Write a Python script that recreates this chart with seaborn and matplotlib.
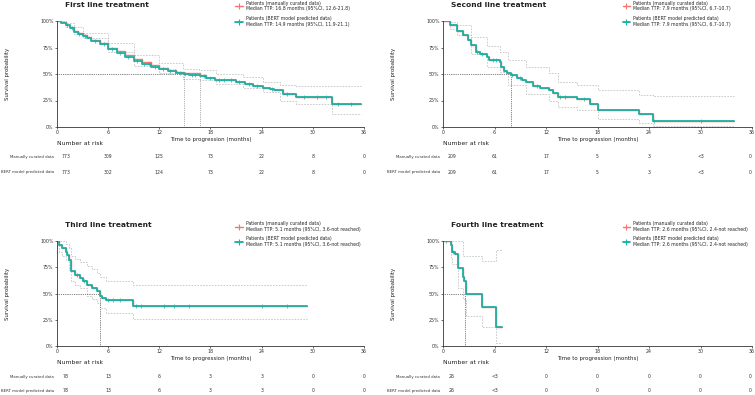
import numpy as np
import pandas as pd
import matplotlib.pyplot as plt
import seaborn as sns
from matplotlib.lines import Line2D

sns.set_theme(style="ticks")
plt.rcParams['font.family'] = ['DejaVu Sans']

RED = '#F8766D'
TEAL = '#1FB0A4'
CI_GRAY = '#C4C4C4'

titles = ['First line treatment', 'Second line treatment',
          'Third line treatment', 'Fourth line treatment']
risk_times = [0, 6, 12, 18, 24, 30, 36]
row_labels = ['Manually curated data', 'BERT model predicted data']

# ---- first line ----
p1_bert_t = [0, 0.5, 1.0, 1.5, 2.0, 2.5, 3.0, 3.5, 4.0, 5.0, 6.0, 7.0, 8.0, 9.0, 10.0, 11.0, 12.0,
             13.0, 14.0, 14.9, 15.5, 16.8, 17.5, 18.5, 20.0, 21.0, 22.0, 23.0, 24.2, 25.0, 25.5,
             26.5, 28.0, 32.2, 35.7]
p1_bert_s = [1.0, 0.985, 0.96, 0.93, 0.90, 0.875, 0.855, 0.835, 0.815, 0.78, 0.735, 0.70, 0.665,
             0.625, 0.595, 0.57, 0.545, 0.525, 0.51, 0.497, 0.494, 0.48, 0.465, 0.445, 0.44, 0.42,
             0.405, 0.39, 0.37, 0.36, 0.345, 0.31, 0.28, 0.22, 0.22]
p1_man_s = [1.0, 0.99, 0.965, 0.94, 0.91, 0.885, 0.865, 0.845, 0.825, 0.79, 0.75, 0.715, 0.68,
            0.645, 0.61, 0.585, 0.56, 0.535, 0.52, 0.51, 0.505, 0.49, 0.465, 0.445, 0.44, 0.42,
            0.405, 0.39, 0.37, 0.36, 0.345, 0.31, 0.28, 0.22, 0.22]
p1_ci_t = [0, 1.0, 2.0, 3.1, 6.0, 9.0, 12.0, 14.8, 16.7, 18.7, 21.8, 24.2, 26.1, 28.0, 32.2, 35.7]
p1_ci_hi = [1.0, 0.98, 0.94, 0.89, 0.79, 0.68, 0.60, 0.55, 0.536, 0.50, 0.467, 0.426, 0.394, 0.388,
            0.388, 0.388]
p1_ci_lo = [1.0, 0.94, 0.88, 0.836, 0.71, 0.58, 0.505, 0.457, 0.44, 0.41, 0.37, 0.33, 0.25, 0.215,
            0.12, 0.12]
p1_censor = [1.2, 1.8, 2.6, 3.3, 4.4, 5.5, 6.5, 7.4, 8.3, 9.4, 10.2, 10.8, 11.5, 12.4, 13.2, 13.8,
             14.4, 15.0, 15.8, 16.2, 17.2, 18.0, 19.0, 19.6, 20.4, 21.4, 22.5, 23.5, 25.2, 27.0,
             29.0, 30.5, 31.5, 33.0, 34.5]
p1_medians = [16.8, 14.9]

# ---- second line ----
p2_t = [0, 0.8, 1.6, 2.3, 2.9, 3.3, 3.9, 4.3, 5.1, 5.4, 6.6, 6.8, 7.1, 7.5, 7.9, 8.6, 9.2, 9.7,
        10.5, 11.3, 12.3, 12.8, 13.4, 15.6, 17.1, 18.1, 22.8, 24.5, 33.9]
p2_s = [1.0, 0.96, 0.91, 0.87, 0.82, 0.77, 0.71, 0.69, 0.66, 0.63, 0.615, 0.57, 0.53, 0.51, 0.49,
        0.465, 0.44, 0.42, 0.39, 0.37, 0.35, 0.32, 0.28, 0.26, 0.22, 0.16, 0.12, 0.06, 0.06]
p2_ci_t = [0, 0.8, 1.6, 3.3, 5.1, 6.6, 7.6, 9.7, 12.3, 13.4, 15.6, 18.1, 22.8, 24.5, 33.9]
p2_ci_hi = [1.0, 0.99, 0.96, 0.85, 0.76, 0.71, 0.63, 0.57, 0.505, 0.426, 0.394, 0.347, 0.30, 0.297,
            0.297]
p2_ci_lo = [1.0, 0.92, 0.87, 0.69, 0.57, 0.52, 0.394, 0.315, 0.25, 0.19, 0.164, 0.08, 0.04, 0.006,
            0.006]
p2_censor = [4.0, 4.6, 5.8, 6.2, 8.0, 9.0, 11.0, 13.6, 14.2, 16.4, 24.6, 30.0]
p2_medians = [7.9, 7.9]

# ---- third line ----
p3_t = [0, 0.2, 0.6, 1.0, 1.2, 1.4, 1.6, 1.7, 2.1, 2.7, 3.0, 3.5, 4.1, 4.7, 5.1, 5.3, 5.7, 8.9, 29.3]
p3_s = [1.0, 0.96, 0.93, 0.90, 0.87, 0.82, 0.76, 0.71, 0.68, 0.65, 0.62, 0.585, 0.55, 0.52, 0.475,
        0.46, 0.44, 0.38, 0.38]
p3_ci_t = [0, 0.2, 0.6, 1.0, 1.4, 1.7, 2.1, 2.7, 3.5, 4.1, 4.7, 5.1, 5.7, 8.9, 29.3]
p3_ci_hi = [1.0, 1.0, 1.0, 0.97, 0.93, 0.86, 0.83, 0.80, 0.76, 0.73, 0.70, 0.66, 0.62, 0.585, 0.585]
p3_ci_lo = [1.0, 0.90, 0.86, 0.82, 0.72, 0.62, 0.58, 0.55, 0.48, 0.45, 0.41, 0.36, 0.31, 0.255,
            0.255]
p3_censor = [2.3, 3.2, 6.0, 6.6, 7.4, 9.3, 9.8, 12.5, 13.7, 15.5, 24.0, 27.0]
p3_medians = [5.1, 5.1]

# ---- fourth line ----
p4_t = [0, 0.9, 1.1, 1.4, 1.8, 2.3, 2.45, 2.65, 4.6, 6.15, 6.9]
p4_s = [1.0, 0.96, 0.90, 0.88, 0.74, 0.66, 0.62, 0.50, 0.37, 0.185, 0.185]
p4_ci_t = [0, 0.9, 1.1, 1.8, 2.3, 2.65, 4.6, 6.15, 6.9]
p4_ci_hi = [1.0, 1.0, 1.0, 1.0, 0.86, 0.86, 0.81, 0.91, 0.91]
p4_ci_lo = [1.0, 0.84, 0.78, 0.55, 0.45, 0.29, 0.18, 0.03, 0.03]
p4_censor = [0.3, 1.2]
p4_medians = [2.6, 2.6]

legend_texts = [
    ['Patients (manually curated data)\nMedian TTP: 16.8 months (95%CI, 12.6-21.8)',
     'Patients (BERT model predicted data)\nMedian TTP: 14.9 months (95%CI, 11.9-21.1)'],
    ['Patients (manually curated data)\nMedian TTP: 7.9 months (95%CI, 6.7-10.7)',
     'Patients (BERT model predicted data)\nMedian TTP: 7.9 months (95%CI, 6.7-10.7)'],
    ['Patients (manually curated data)\nMedian TTP: 5.1 months (95%CI, 3.6-not reached)',
     'Patients (BERT model predicted data)\nMedian TTP: 5.1 months (95%CI, 3.6-not reached)'],
    ['Patients (manually curated data)\nMedian TTP: 2.6 months (95%CI, 2.4-not reached)',
     'Patients (BERT model predicted data)\nMedian TTP: 2.6 months (95%CI, 2.4-not reached)'],
]

risk_manual = [
    ['773', '309', '125', '73', '22', '8', '0'],
    ['209', '61', '17', '5', '3', '<3', '0'],
    ['78', '13', '6', '3', '3', '0', '0'],
    ['26', '<3', '0', '0', '0', '0', '0'],
]
risk_bert = [
    ['773', '302', '124', '73', '22', '8', '0'],
    ['209', '61', '17', '5', '3', '<3', '0'],
    ['78', '13', '6', '3', '3', '0', '0'],
    ['26', '<3', '0', '0', '0', '0', '0'],
]

panels = [
    dict(man=(p1_bert_t, p1_man_s), bert=(p1_bert_t, p1_bert_s),
         ci=(p1_ci_t, p1_ci_hi, p1_ci_lo), cens=p1_censor, med=p1_medians),
    dict(man=(p2_t, p2_s), bert=(p2_t, p2_s),
         ci=(p2_ci_t, p2_ci_hi, p2_ci_lo), cens=p2_censor, med=p2_medians),
    dict(man=(p3_t, p3_s), bert=(p3_t, p3_s),
         ci=(p3_ci_t, p3_ci_hi, p3_ci_lo), cens=p3_censor, med=p3_medians),
    dict(man=(p4_t, p4_s), bert=(p4_t, p4_s),
         ci=(p4_ci_t, p4_ci_hi, p4_ci_lo), cens=p4_censor, med=p4_medians),
]

W, H = 755, 395
fig = plt.figure(figsize=(W / 100, H / 100), dpi=100)

# pixel boxes: (left, right, top, bottom) of the plot area
boxes = [(57, 364, 21, 127), (443, 752, 21, 127), (57, 364, 241, 346), (443, 752, 241, 346)]
# y pixel of: "Number at risk", row1, row2
risk_rows = [(144, 157, 172), (144, 157, 172), (363, 377, 391), (363, 377, 391)]


def step_value(t, s, x):
    idx = np.searchsorted(np.asarray(t), x, side='right') - 1
    return np.asarray(s)[idx]


for i, p in enumerate(panels):
    l, r, top, bot = boxes[i]
    ax = fig.add_axes([l / W, 1 - bot / H, (r - l) / W, (bot - top) / H])

    ct, hi, lo = p['ci']
    for arr in (hi, lo):
        sns.lineplot(x=ct, y=arr, ax=ax, drawstyle='steps-post', color=CI_GRAY,
                     linewidth=0.6, linestyle=(0, (2, 1.5)), estimator=None)

    for m in p['med']:
        ax.plot([0, m], [0.5, 0.5], color='#666666', linewidth=0.5, linestyle=':')
        ax.plot([m, m], [0, 0.5], color='#666666', linewidth=0.5, linestyle=':')

    mt, ms = p['man']
    bt, bs = p['bert']
    sns.lineplot(x=mt, y=ms, ax=ax, drawstyle='steps-post', color=RED, linewidth=1.0,
                 estimator=None)
    sns.lineplot(x=bt, y=bs, ax=ax, drawstyle='steps-post', color=TEAL, linewidth=1.3,
                 estimator=None)
    cens_y = [step_value(bt, bs, c) for c in p['cens']]
    ax.plot(p['cens'], cens_y, linestyle='none', marker='+', markersize=2.5,
            markeredgewidth=0.5, color=TEAL)

    ax.set_xlim(0, 36)
    ax.set_ylim(0, 1.0)
    ax.set_xticks(risk_times)
    ax.set_yticks([0, 0.25, 0.5, 0.75, 1.0])
    ax.set_yticklabels(['0%', '25%', '50%', '75%', '100%'])
    ax.tick_params(labelsize=3.4, length=1.5, width=0.5, pad=1, colors='#333333')
    ax.margins(0)
    for sp in ('top', 'right'):
        ax.spines[sp].set_visible(False)
    for sp in ('left', 'bottom'):
        ax.spines[sp].set_linewidth(0.6)
        ax.spines[sp].set_color('#333333')
    ax.set_xlabel('Time to progression (months)', fontsize=4.0, labelpad=1, color='#222222')
    ax.set_ylabel('')

    # y label and title
    fig.text((l - 50) / W, 1 - ((top + bot) / 2) / H, 'Survival probability', rotation=90,
             ha='center', va='center', fontsize=3.9, color='#222222')
    fig.text((l + 8) / W, 1 - (top - 16) / H, titles[i], ha='left', va='center',
             fontsize=5.4, fontweight='bold', color='#222222')

    handles = [Line2D([0], [0], color=RED, linewidth=1.0, marker='+', markersize=4,
                      markeredgewidth=0.8),
               Line2D([0], [0], color=TEAL, linewidth=1.3, marker='+', markersize=4,
                      markeredgewidth=0.8)]
    ax.legend(handles, legend_texts[i], loc='upper left', bbox_to_anchor=(0.575, 1.21),
              frameon=False, fontsize=3.3, handlelength=1.6, handletextpad=0.7,
              labelspacing=1.0, borderaxespad=0)

    # number at risk table
    hy, r1, r2 = risk_rows[i]
    fig.text(l / W, 1 - hy / H, 'Number at risk', ha='left', va='center', fontsize=4.4,
             color='#222222')
    for ry, lab, vals in ((r1, row_labels[0], risk_manual[i]), (r2, row_labels[1], risk_bert[i])):
        fig.text((l - 3) / W, 1 - ry / H, lab, ha='right', va='center', fontsize=2.8,
                 color='#333333')
        for tx, v in zip(risk_times, vals):
            xpix = l + (r - l) * tx / 36
            if tx == 0:
                xpix += 9
            xpix = min(xpix, W - 5)
            fig.text(xpix / W, 1 - ry / H, v, ha='center', va='center', fontsize=3.3,
                     color='#333333')

fig.savefig('out.png', dpi=100, facecolor='white')
